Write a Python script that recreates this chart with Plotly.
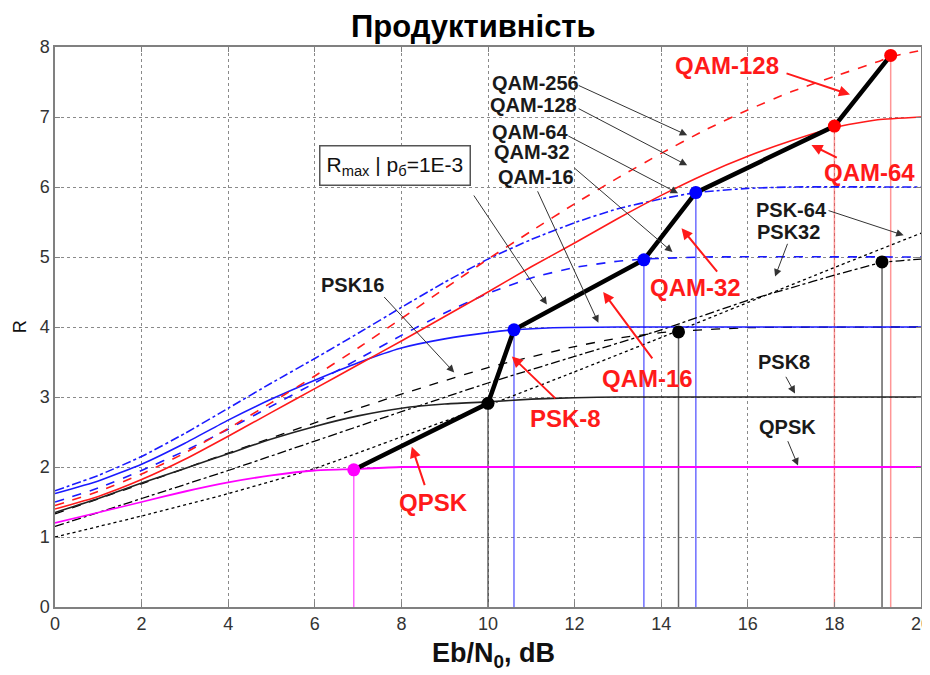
import plotly.graph_objects as go

# ---------------- data ----------------
qpsk_x = [0, 1, 2, 3, 4, 5, 6, 6.9, 8, 20]
qpsk_y = [1.2, 1.35, 1.5, 1.65, 1.78, 1.88, 1.95, 1.97, 2.0, 2.0]

psk8_x = [0, 1, 2, 3, 4, 5, 6, 7, 8, 9, 10, 11, 12, 13, 20]
psk8_y = [1.35, 1.55, 1.77, 1.98, 2.19, 2.4, 2.58, 2.73, 2.84, 2.9, 2.93, 2.97, 2.99, 3.0, 3.0]

psk16_x = [0, 2, 4, 6, 8, 10, 12, 13, 14, 14.4, 16, 20]
psk16_y = [1.33, 1.76, 2.2, 2.63, 3.04, 3.42, 3.72, 3.84, 3.92, 3.94, 3.99, 4.0]

psk32_x = [0, 2, 4, 6, 8, 10, 12, 14, 16, 17, 18, 19.1, 20]
psk32_y = [1.15, 1.55, 1.95, 2.37, 2.79, 3.2, 3.58, 3.96, 4.38, 4.56, 4.74, 4.92, 4.97]

psk64_x = [0, 2, 4, 6, 8, 10, 12, 14, 16, 18, 20]
psk64_y = [1.0, 1.3, 1.62, 1.98, 2.43, 2.88, 3.36, 3.85, 4.35, 4.85, 5.34]

qam16_x = [0, 1, 2, 3, 4, 5, 6, 7, 8, 9, 10, 10.6, 11.5, 13, 20]
qam16_y = [1.62, 1.8, 2.04, 2.34, 2.67, 2.97, 3.24, 3.49, 3.7, 3.83, 3.92, 3.96, 3.99, 4.0, 4.0]

qam32_x = [0, 1, 2, 3, 4, 5, 6, 7, 8, 9, 10, 11, 12, 13, 13.6, 15, 20]
qam32_y = [1.5, 1.7, 1.95, 2.23, 2.54, 2.87, 3.2, 3.54, 3.88, 4.2, 4.48, 4.7, 4.85, 4.94, 4.97, 5.0, 5.0]

qam64_x = [0, 1, 2, 3, 4, 5, 6, 7, 8, 9, 10, 11, 12, 13, 14, 14.8, 16, 17, 20]
qam64_y = [1.66, 1.88, 2.15, 2.48, 2.84, 3.2, 3.55, 3.91, 4.28, 4.64, 4.97, 5.25, 5.49, 5.69, 5.83, 5.92, 5.98, 6.0, 6.0]

qam128_x = [0, 1, 2, 3, 4, 5, 6, 7, 8, 9, 10, 11, 12, 13, 14, 15, 16, 17, 18, 19, 20]
qam128_y = [1.4, 1.58, 1.82, 2.11, 2.44, 2.78, 3.12, 3.46, 3.8, 4.15, 4.5, 4.86, 5.2, 5.55, 5.88, 6.18, 6.44, 6.66, 6.85, 6.96, 7.0]

qam256_x = [0, 1, 2, 3, 4, 5, 6, 7, 8, 9, 10, 11, 12, 13, 14, 15, 16, 17, 18, 19, 19.3, 20]
qam256_y = [1.45, 1.65, 1.9, 2.2, 2.55, 2.92, 3.3, 3.7, 4.12, 4.55, 4.97, 5.37, 5.76, 6.13, 6.48, 6.81, 7.1, 7.36, 7.58, 7.79, 7.86, 7.95]

# envelope R_max | pb = 1E-3
env_x = [6.9, 10.0, 10.6, 13.6, 14.8, 18.0, 19.3]
env_y = [1.96, 2.91, 3.96, 4.96, 5.92, 6.87, 7.88]
env_colors = ["#ff00ff", "#000000", "#0000ff", "#0000ff", "#0000ff", "#ff0000", "#ff0000"]

# extra operating points (PSK16, PSK32)
extra_x = [14.4, 19.1]
extra_y = [3.93, 4.93]
extra_colors = ["#000000", "#000000"]

drop_line_colors = {"#ff00ff": "rgba(255,0,255,0.6)", "#000000": "rgba(60,60,60,0.8)",
                    "#0000ff": "rgba(60,60,255,0.75)", "#ff0000": "rgba(255,80,80,0.6)"}

FONT = "Liberation Sans, Arial, sans-serif"

fig = go.Figure()

# vertical drop lines
all_x = env_x + extra_x
all_y = env_y + extra_y
all_c = env_colors + extra_colors
for xv, yv, c in zip(all_x, all_y, all_c):
    fig.add_trace(go.Scatter(x=[xv, xv], y=[0, yv], mode="lines",
                             line=dict(color=drop_line_colors[c], width=1.5),
                             hoverinfo="skip", showlegend=False))

curves = [
    (psk64_x, psk64_y, "#000000", "dot", 1.3),
    (psk32_x, psk32_y, "#000000", "dashdot", 1.3),
    (psk16_x, psk16_y, "#000000", "dash", 1.3),
    (psk8_x, psk8_y, "#222222", "solid", 1.6),
    (qpsk_x, qpsk_y, "#ff00ff", "solid", 1.8),
    (qam16_x, qam16_y, "#1a1aff", "solid", 1.6),
    (qam32_x, qam32_y, "#1a1aff", "dash", 1.6),
    (qam64_x, qam64_y, "#1a1aff", "dashdot", 1.6),
    (qam128_x, qam128_y, "#ff1a1a", "solid", 1.6),
    (qam256_x, qam256_y, "#ff1a1a", "dash", 1.6),
]
for cx, cy, col, dash, w in curves:
    fig.add_trace(go.Scatter(x=cx, y=cy, mode="lines",
                             line=dict(color=col, dash=dash, width=w, shape="spline", smoothing=0.5),
                             hoverinfo="skip", showlegend=False))

# thick envelope
fig.add_trace(go.Scatter(x=env_x, y=env_y, mode="lines",
                         line=dict(color="black", width=4.5),
                         hoverinfo="skip", showlegend=False))
# markers
fig.add_trace(go.Scatter(x=all_x, y=all_y, mode="markers",
                         marker=dict(color=all_c, size=13, line=dict(width=0)),
                         hoverinfo="skip", showlegend=False))

ann = []
# black labels: (text, cx, cy, tail_x, tail_y, head_x, head_y)
black_labels = [
    ("QAM-256", 11.09, 7.49, 12.06, 7.46, 14.6, 6.74),
    ("QAM-128", 11.06, 7.17, 12.06, 7.13, 14.6, 6.31),
    ("QAM-64", 10.97, 6.79, 11.82, 6.74, 14.39, 5.91),
    ("QAM-32", 11.02, 6.50, 11.96, 6.29, 14.26, 5.07),
    ("QAM-16", 11.11, 6.14, 11.13, 5.96, 12.55, 4.06),
    ("PSK16", 6.86, 4.60, 7.57, 4.45, 9.22, 3.35),
    ("PSK-64", 17.02, 5.67, 17.83, 5.67, 19.6, 5.31),
    ("PSK32", 16.93, 5.36, 16.93, 5.21, 16.63, 4.72),
    ("PSK8", 16.84, 3.50, 16.86, 3.31, 17.09, 3.05),
    ("QPSK", 16.91, 2.57, 16.91, 2.39, 17.16, 2.02),
]
for t, cx, cy, tx, ty, hx, hy in black_labels:
    ann.append(dict(x=cx, y=cy, text="<b>%s</b>" % t, showarrow=False,
                    font=dict(family=FONT, size=20, color="#1a1a1a")))
    ann.append(dict(x=hx, y=hy, ax=tx, ay=ty, axref="x", ayref="y", text="",
                    showarrow=True, arrowhead=2, arrowsize=1.5, arrowwidth=1,
                    arrowcolor="#333333"))

# R_max box
ann.append(dict(x=7.86, y=6.31, text="R<sub>max</sub> | p<sub>б</sub>=1E-3", showarrow=False,
                font=dict(family=FONT, size=21, color="#111111"),
                bordercolor="#555555", borderwidth=1.5, borderpad=6, bgcolor="white"))
ann.append(dict(x=11.36, y=4.32, ax=9.65, ay=5.9, axref="x", ayref="y", text="",
                showarrow=True, arrowhead=2, arrowsize=1.5, arrowwidth=1, arrowcolor="#333333"))

red_labels = [
    ("QAM-128", 15.52, 7.74, 16.86, 7.63, 18.36, 7.32),
    ("QAM-64", 18.80, 6.21, 18.09, 6.41, 17.47, 6.6),
    ("QAM-32", 14.80, 4.56, 15.32, 4.77, 14.47, 5.41),
    ("QAM-16", 13.68, 3.27, 13.82, 3.53, 12.66, 4.5),
    ("PSK-8", 11.78, 2.70, 11.59, 2.96, 10.55, 3.58),
    ("QPSK", 8.73, 1.49, 8.55, 1.72, 8.24, 2.29),
]
for t, cx, cy, tx, ty, hx, hy in red_labels:
    ann.append(dict(x=cx, y=cy, text="<b>%s</b>" % t, showarrow=False,
                    font=dict(family=FONT, size=24, color="#ff1a1a")))
    ann.append(dict(x=hx, y=hy, ax=tx, ay=ty, axref="x", ayref="y", text="",
                    showarrow=True, arrowhead=2, arrowsize=1.1, arrowwidth=2,
                    arrowcolor="#ff1a1a"))

# axis titles
ann.append(dict(x=0.506, y=-0.086, xref="paper", yref="paper", text="<b>Eb/N<sub>0</sub>, dB</b>",
                showarrow=False, font=dict(family=FONT, size=27, color="#111111"),
                xanchor="center", yanchor="middle"))
ann.append(dict(x=-0.040, y=0.5, xref="paper", yref="paper", text="R", textangle=-90,
                showarrow=False, font=dict(family=FONT, size=18, color="#111111"),
                xanchor="center", yanchor="middle"))

# the page body has an 8 px margin, so the figure is sized/offset to compensate
fig.update_layout(
    width=922, height=667,
    margin=dict(l=47, r=9, t=39, b=68),
    paper_bgcolor="white", plot_bgcolor="white",
    title=dict(text="<b>Продуктивність</b>", x=0.483, xref="paper", y=0.973, yref="container",
               xanchor="center", yanchor="middle",
               font=dict(family=FONT, size=31, color="black")),
    annotations=ann,
    showlegend=False,
)
fig.update_xaxes(range=[0, 20], dtick=2, tick0=0, showgrid=True, gridcolor="#8a8a8a",
                 griddash="dot", gridwidth=1, zeroline=False, showline=True, linecolor="#808080",
                 linewidth=1.5, mirror="ticks", ticks="inside", ticklen=5, tickcolor="#808080",
                 automargin=False, ticklabeloverflow="allow",
                 tickfont=dict(family=FONT, size=18, color="#333333"))
fig.update_yaxes(range=[0, 8], dtick=1, tick0=0, showgrid=True, gridcolor="#8a8a8a",
                 griddash="dot", gridwidth=1, zeroline=False, showline=True, linecolor="#808080",
                 linewidth=1.5, mirror="ticks", ticks="inside", ticklen=5, tickcolor="#808080",
                 automargin=False,
                 tickfont=dict(family=FONT, size=18, color="#333333"))

fig.write_html("out.html")
